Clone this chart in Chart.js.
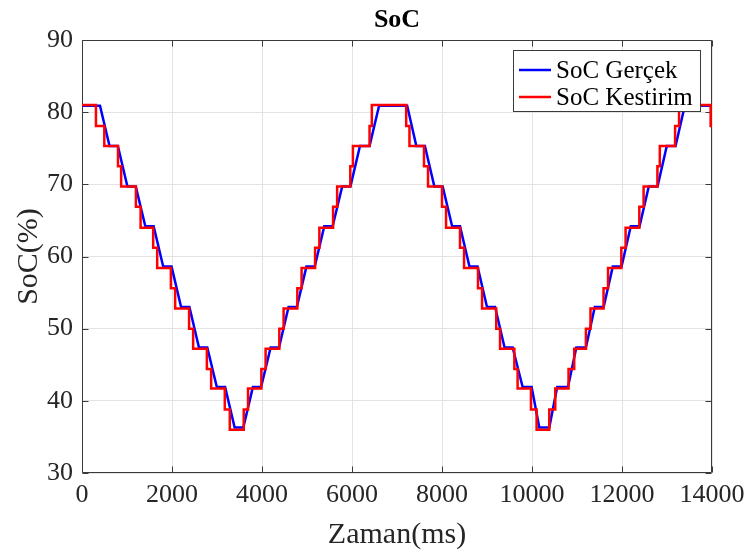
<!DOCTYPE html>
<html>
<head>
<meta charset="utf-8">
<script src="https://cdn.jsdelivr.net/npm/chart.js@4.4.1/dist/chart.umd.min.js"></script>
<style>
html,body{margin:0;padding:0;background:#fff;}
canvas{display:block;}
</style>
</head>
<body>
<canvas id="c" width="752" height="554"></canvas>
<script>
// ---- data ----
const chartTitle = 'SoC';
const xTitle = 'Zaman(ms)';
const yTitle = 'SoC(%)';
const seriesNames = ['SoC Gerçek', 'SoC Kestirim'];
const xTicks = [0, 2000, 4000, 6000, 8000, 10000, 12000, 14000];
const yTicks = [30, 40, 50, 60, 70, 80, 90];

// SoC Gerçek (blue) breakpoints
const gercekZaman = [0,400,612,797,1009,1195,1407,1592,1804,1990,2202,2387,2599,2784,2996,3180,3392,
  3585,3797,3980,4192,4378,4590,4775,4987,5172,5384,5570,5782,5965,6177,6390,6602,
  7226,7430,7620,7830,8015,8225,8400,8610,8790,9000,9180,9390,9570,9792,9992,10162,
  10384,10560,10800,10985,11198,11395,11592,11795,11990,12195,12390,12595,12790,12995,13190,13395,14000];
const gercekSoC = [80.9,80.9,75.3,75.3,69.7,69.7,64.2,64.2,58.6,58.6,53.0,53.0,47.4,47.4,41.9,41.9,36.3,
  36.3,41.9,41.9,47.4,47.4,53.0,53.0,58.6,58.6,64.2,64.2,69.7,69.7,75.3,75.3,80.9,
  80.9,75.3,75.3,69.7,69.7,64.2,64.2,58.6,58.6,53.0,53.0,47.4,47.4,41.9,41.9,36.3,
  36.3,41.9,41.9,47.4,47.4,53.0,53.0,58.6,58.6,64.2,64.2,69.7,69.7,75.3,75.3,80.9,80.9];

// SoC Kestirim (red) breakpoints
const kestirimZaman = [0,310,310,496,496,800,800,870,870,1198,1198,1302,1302,1582,1582,1671,1671,1975,1975,2070,2070,2380,2380,2470,2470,2775,2775,2870,2870,3173,3173,3284,3284,
  3594,3594,3690,3690,3986,3986,4080,4080,4385,4385,4480,4480,4785,4785,4880,4880,5180,5180,5275,5275,5580,5580,5670,5670,5962,5962,6020,6020,6390,6390,6441,6441,
  7204,7204,7277,7277,7600,7600,7690,7690,8000,8000,8090,8090,8400,8400,8490,8490,8800,8800,8890,8890,9205,9205,9290,9290,9608,9608,9680,9680,9977,9977,10102,10102,
  10384,10384,10517,10517,10812,10812,10938,10938,11198,11198,11300,11300,11590,11590,11690,11690,11985,11985,12080,12080,12385,12385,12480,12480,12787,12787,12840,12840,13180,13180,13268,13268,
  13970,13970,14000];
const kestirimSoC = [81.0,81.0,78.1,78.1,75.3,75.3,72.5,72.5,69.7,69.7,66.9,66.9,64.0,64.0,61.2,61.2,58.4,58.4,55.6,55.6,52.8,52.8,50.0,50.0,47.2,47.2,44.4,44.4,41.7,41.7,38.8,38.8,36.0,
  36.0,38.8,38.8,41.7,41.7,44.4,44.4,47.2,47.2,50.0,50.0,52.8,52.8,55.6,55.6,58.4,58.4,61.2,61.2,64.0,64.0,66.9,66.9,69.7,69.7,72.5,72.5,75.3,75.3,78.1,78.1,81.0,
  81.0,78.1,78.1,75.3,75.3,72.5,72.5,69.7,69.7,66.9,66.9,64.0,64.0,61.2,61.2,58.4,58.4,55.6,55.6,52.8,52.8,50.0,50.0,47.2,47.2,44.4,44.4,41.7,41.7,38.8,38.8,36.0,
  36.0,38.8,38.8,41.7,41.7,44.4,44.4,47.2,47.2,50.0,50.0,52.8,52.8,55.6,55.6,58.4,58.4,61.2,61.2,64.0,64.0,66.9,66.9,69.7,69.7,72.5,72.5,75.3,75.3,78.1,78.1,81.0,
  81.0,78.1,78.1];

const toPts = (xs, ys) => xs.map((t, i) => ({x: t, y: ys[i]}));

const FONT = '"Liberation Serif", "Times New Roman", serif';

const matlabFrame = {
  id: 'matlabFrame',
  beforeDraw(chart) {
    const {ctx} = chart;
    ctx.save();
    ctx.fillStyle = '#fff';
    ctx.fillRect(0, 0, chart.width, chart.height);
    ctx.restore();
  },
  beforeDatasetsDraw(chart) {
    const {ctx, chartArea: a, scales: {x, y}} = chart;
    ctx.save();
    ctx.strokeStyle = '#3a3a3a';
    ctx.lineWidth = 1;
    ctx.beginPath();
    const L = Math.round(a.left) + 0.5, R = Math.round(a.right) - 0.5;
    const T = Math.round(a.top) + 0.5, B = Math.round(a.bottom) - 0.5;
    ctx.rect(L, T, R - L, B - T);
    const tl = 6;
    xTicks.forEach(v => {
      const p = Math.round(x.getPixelForValue(v)) + 0.5;
      ctx.moveTo(p, B); ctx.lineTo(p, B - tl);
      ctx.moveTo(p, T); ctx.lineTo(p, T + tl);
    });
    yTicks.forEach(v => {
      const p = Math.round(y.getPixelForValue(v)) + 0.5;
      ctx.moveTo(L, p); ctx.lineTo(L + tl, p);
      ctx.moveTo(R, p); ctx.lineTo(R - tl, p);
    });
    ctx.stroke();
    ctx.restore();
  },
  afterDraw(chart) {
    const {ctx, chartArea: a} = chart;
    ctx.save();
    // title
    ctx.fillStyle = '#000';
    ctx.font = 'bold 26px ' + FONT;
    ctx.textAlign = 'center';
    ctx.textBaseline = 'middle';
    ctx.fillText(chartTitle, (a.left + a.right) / 2, 20);
    // legend box
    const bx = 513.5, by = 50.5, bw = 187, bh = 61;
    ctx.fillStyle = '#fff';
    ctx.fillRect(bx, by, bw, bh);
    ctx.strokeStyle = '#3a3a3a';
    ctx.lineWidth = 1;
    ctx.strokeRect(bx, by, bw, bh);
    const ds = chart.data.datasets;
    const rows = [70, 97];
    ds.forEach((d, i) => {
      ctx.strokeStyle = d.borderColor;
      ctx.lineWidth = 2.5;
      ctx.beginPath();
      ctx.moveTo(519, rows[i]);
      ctx.lineTo(551, rows[i]);
      ctx.stroke();
      ctx.fillStyle = '#000';
      ctx.font = '25px ' + FONT;
      ctx.textAlign = 'left';
      ctx.textBaseline = 'middle';
      ctx.fillText(d.label, 556, rows[i] + 1);
    });
    ctx.restore();
  }
};

new Chart(document.getElementById('c'), {
  type: 'line',
  data: {
    datasets: [
      {label: seriesNames[0], data: toPts(gercekZaman, gercekSoC), borderColor: '#0000ff', borderWidth: 2.5, pointRadius: 0, tension: 0, order: 2},
      {label: seriesNames[1], data: toPts(kestirimZaman, kestirimSoC), borderColor: '#ff0000', borderWidth: 2.5, pointRadius: 0, tension: 0, order: 1}
    ]
  },
  options: {
    responsive: false,
    animation: false,
    devicePixelRatio: 1,
    layout: {padding: {top: 40, right: 40, left: 0, bottom: 0}},
    plugins: {legend: {display: false}, title: {display: false}, tooltip: {enabled: false}},
    scales: {
      x: {
        type: 'linear', min: 0, max: 14000,
        afterBuildTicks: s => { s.ticks = xTicks.map(v => ({value: v})); },
        afterFit: s => { s.height = 81; },
        grid: {color: '#e3e3e3', drawTicks: false, lineWidth: 1},
        border: {display: false},
        ticks: {font: {family: FONT, size: 26}, color: '#262626', padding: 7, maxRotation: 0, autoSkip: false,
          callback: v => String(v)},
        title: {display: true, text: xTitle, font: {family: FONT, size: 30}, color: '#262626', padding: {top: 0, bottom: 1}}
      },
      y: {
        type: 'linear', min: 30, max: 90,
        afterBuildTicks: s => { s.ticks = yTicks.map(v => ({value: v})); },
        afterFit: s => { s.width = 82; },
        grid: {color: '#e3e3e3', drawTicks: false, lineWidth: 1},
        border: {display: false},
        ticks: {font: {family: FONT, size: 26}, color: '#262626', padding: 9, callback: v => String(v)},
        title: {display: true, text: yTitle, font: {family: FONT, size: 30}, color: '#262626', padding: {top: 11, bottom: 0}}
      }
    }
  },
  plugins: [matlabFrame]
});
</script>
</body>
</html>
